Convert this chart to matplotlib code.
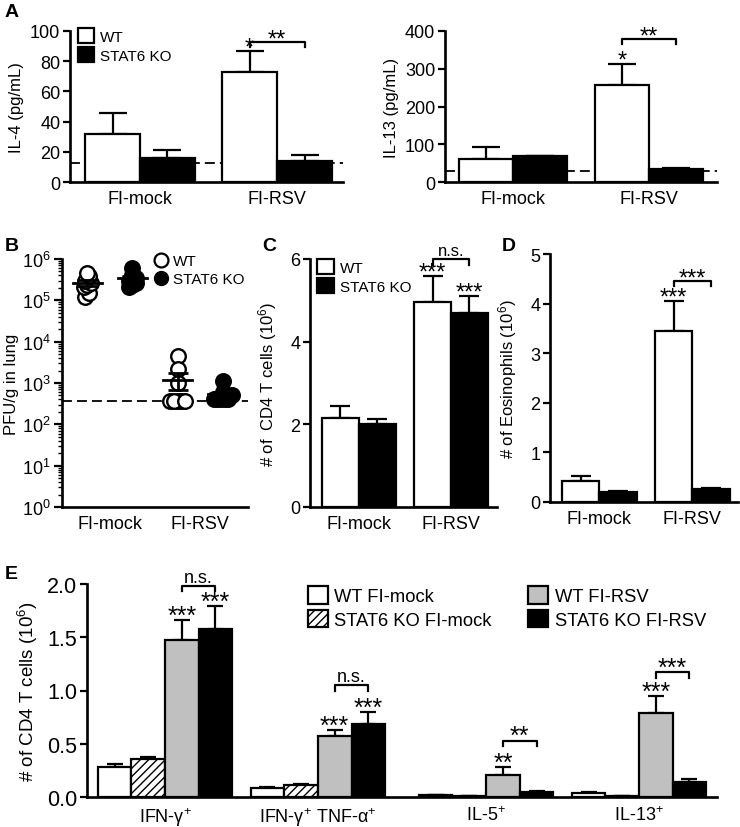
import numpy as np
import matplotlib
matplotlib.use("Agg")
from matplotlib import pyplot as plt
from matplotlib.patches import Patch
from matplotlib.lines import Line2D
from matplotlib.ticker import LogLocator, NullFormatter, FixedLocator

plt.rcParams["font.family"] = ["Liberation Sans", "DejaVu Sans"]
plt.rcParams["mathtext.fontset"] = "custom"
plt.rcParams["mathtext.rm"] = "Liberation Sans"
plt.rcParams["mathtext.it"] = "Liberation Sans:italic"
plt.rcParams["hatch.linewidth"] = 1.0

groups = ["FI-mock", "FI-RSV"]

# A: cytokines (pg/mL), mean and SEM
il4_wt = [32, 73]
il4_wt_sem = [14, 14]
il4_ko = [16, 14]
il4_ko_sem = [5, 4]
il4_lod = 12.5

il13_wt = [62, 258]
il13_wt_sem = [30, 55]
il13_ko = [68, 35]
il13_ko_sem = [2, 3]
il13_lod = 30

# B: lung titres (PFU/g)
pfu_wt_mock = [1.2e5, 1.5e5, 2.1e5, 2.4e5, 2.6e5, 3.0e5, 3.8e5, 4.6e5]
pfu_ko_mock = [2.1e5, 2.4e5, 2.7e5, 3.0e5, 3.2e5, 3.5e5, 4.2e5, 6.0e5]
pfu_wt_rsv = [4.5e3, 2.2e3, 1.0e3, 370, 370, 370, 370, 370]
pfu_ko_rsv = [1.1e3, 600, 520, 400, 400, 400, 400, 400]
pfu_lod = 370

# C: CD4 T cells (10^6)
cd4_wt = [2.15, 4.95]
cd4_wt_sem = [0.3, 0.65]
cd4_ko = [2.0, 4.7]
cd4_ko_sem = [0.13, 0.4]

# D: eosinophils (10^6)
eos_wt = [0.42, 3.45]
eos_wt_sem = [0.1, 0.6]
eos_ko = [0.21, 0.27]
eos_ko_sem = [0.02, 0.02]

# E: cytokine+ CD4 T cells (10^6)
e_cats = ["IFN-γ$^{+}$", "IFN-γ$^{+}$ TNF-α$^{+}$", "IL-5$^{+}$", "IL-13$^{+}$"]
e_wt_mock = [0.28, 0.085, 0.02, 0.035]
e_wt_mock_sem = [0.03, 0.005, 0.003, 0.008]
e_ko_mock = [0.36, 0.11, 0.008, 0.01]
e_ko_mock_sem = [0.02, 0.01, 0.002, 0.003]
e_wt_rsv = [1.47, 0.57, 0.21, 0.79]
e_wt_rsv_sem = [0.19, 0.06, 0.07, 0.16]
e_ko_rsv = [1.58, 0.69, 0.045, 0.14]
e_ko_rsv_sem = [0.21, 0.11, 0.008, 0.03]

LW = 1.6
TICK_FS = 13
LAB_FS = 12
STAR_FS = 17
STAR_DY = -2

W, H = 740, 828
fig = plt.figure(figsize=(W / 100, H / 100), dpi=100)


def add_ax(x0, y0, x1, y1):
    return fig.add_axes([x0 / W, 1 - y1 / H, (x1 - x0) / W, (y1 - y0) / H])


def style(ax):
    for s in ["top", "right"]:
        ax.spines[s].set_visible(False)
    for s in ["left", "bottom"]:
        ax.spines[s].set_linewidth(LW * 1.2)
    ax.tick_params(axis="y", direction="out", length=5, width=LW, labelsize=TICK_FS, pad=2)
    ax.tick_params(axis="x", length=0, labelsize=TICK_FS, pad=6)


def bars(ax, x, vals, sems, color, width, capsize, hatch=None):
    ax.bar(x, vals, width, color=color, edgecolor="black", linewidth=LW,
           hatch=hatch, zorder=2)
    ax.errorbar(x, vals, yerr=[np.zeros(len(vals)), sems], fmt="none",
                ecolor="black", elinewidth=LW, capsize=capsize, capthick=LW, zorder=1)


def label(ax, x, y, text, fs, dy):
    ax.annotate(text, xy=(x, y), xytext=(0, dy), textcoords="offset points",
                ha="center", va="baseline", fontsize=fs, annotation_clip=False)


def bracket(ax, x1, x2, y, drop, text, fs=STAR_FS):
    ax.plot([x1, x1, x2, x2], [y - drop, y, y, y - drop], color="black",
            lw=LW, clip_on=False)
    label(ax, (x1 + x2) / 2, y, text, fs, STAR_DY if "*" in text else 3)


def star(ax, x, y, text, fs=STAR_FS):
    label(ax, x, y, text, fs, STAR_DY)


def bar_legend(ax, items, anchor, ncol=1, fs=11, colsp=1.0):
    handles = [Patch(facecolor=c, edgecolor="black", linewidth=LW, hatch=h)
               for c, h, _ in items]
    ax.legend(handles, [l for _, _, l in items], loc="upper left",
              bbox_to_anchor=anchor, frameon=False, fontsize=fs, ncol=ncol,
              handlelength=1.1, handleheight=1.1, handletextpad=0.35,
              labelspacing=0.25, borderaxespad=0, borderpad=0,
              columnspacing=colsp)


DASH = (0, (5.5, 2.8))
xg = np.arange(len(groups))
bw = 0.4

# ---- Panel A left: IL-4
ax = add_ax(70, 32, 343, 183)
style(ax)
bars(ax, xg - bw / 2, il4_wt, il4_wt_sem, "white", bw, 10)
bars(ax, xg + bw / 2, il4_ko, il4_ko_sem, "black", bw, 10)
ax.axhline(il4_lod, color="black", lw=1.3, ls=DASH, zorder=0.5)
ax.set_xlim(-0.51, 1.48)
ax.set_ylim(0, 100)
ax.set_yticks([0, 20, 40, 60, 80, 100])
ax.set_xticks(xg, groups)
ax.set_ylabel("IL-4 (pg/mL)", fontsize=LAB_FS, labelpad=4)
star(ax, 1 - bw / 2, il4_wt[1] + il4_wt_sem[1], "*")
bracket(ax, 1 - bw / 2, 1 + bw / 2, 92.5, 3, "**")
bar_legend(ax, [("white", None, "WT"), ("black", None, "STAT6 KO")], (0.028, 1.02))

# ---- Panel A right: IL-13
ax = add_ax(445, 32, 717, 183)
style(ax)
bars(ax, xg - bw / 2, il13_wt, il13_wt_sem, "white", bw, 10)
bars(ax, xg + bw / 2, il13_ko, il13_ko_sem, "black", bw, 10)
ax.axhline(il13_lod, color="black", lw=1.3, ls=DASH, zorder=0.5)
ax.set_xlim(-0.5, 1.5)
ax.set_ylim(0, 400)
ax.set_yticks([0, 100, 200, 300, 400])
ax.set_xticks(xg, groups)
ax.set_ylabel("IL-13 (pg/mL)", fontsize=LAB_FS, labelpad=4)
star(ax, 1 - bw / 2, il13_wt[1] + il13_wt_sem[1], "*")
bracket(ax, 1 - bw / 2, 1 + bw / 2, 378, 12, "**")

# ---- Panel B: lung titres
ax = add_ax(62, 260, 248, 508)
style(ax)
ax.set_yscale("log")
ax.set_ylim(1, 1e6)
ax.set_xlim(-0.53, 1.53)
ax.yaxis.set_major_locator(FixedLocator([10.0 ** k for k in range(7)]))
ax.set_yticklabels(["10$^{%d}$" % k for k in range(7)])
ax.yaxis.set_minor_locator(LogLocator(base=10, subs=np.arange(2, 10), numticks=20))
ax.yaxis.set_minor_formatter(NullFormatter())
ax.tick_params(axis="y", which="minor", length=3, width=1.0)
ax.tick_params(axis="y", which="major", length=6, width=LW)


def swarm(vals, step=0.04):
    vals = np.asarray(vals, dtype=float)
    order = np.argsort(vals)
    off = np.zeros(len(vals))
    i = 0
    while i < len(order):
        j = i
        while j + 1 < len(order) and np.log10(vals[order[j + 1]]) - np.log10(vals[order[i]]) < 0.12:
            j += 1
        k = j - i + 1
        for m in range(k):
            off[order[i + m]] = (m - (k - 1) / 2) * step
        i = j + 1
    return off


pfu_sets = [(pfu_wt_mock, 0 - 0.25, False), (pfu_ko_mock, 0 + 0.25, True),
            (pfu_wt_rsv, 1 - 0.25, False), (pfu_ko_rsv, 1 + 0.25, True)]
for vals, xc, filled in pfu_sets:
    v = np.asarray(vals, dtype=float)
    ax.plot(xc + swarm(v), v, "o", ms=10.5, mfc="black" if filled else "white",
            mec="black", mew=1.7, zorder=3, clip_on=False)
    m = v.mean()
    sem = v.std(ddof=1) / np.sqrt(len(v))
    ax.plot([xc - 0.16, xc + 0.16], [m, m], color="black", lw=2, zorder=4)
    ax.errorbar([xc], [m], yerr=[[sem], [sem]], fmt="none", ecolor="black",
                elinewidth=2, capsize=7, capthick=2, zorder=4)
ax.axhline(pfu_lod, color="black", lw=1.3, ls=DASH, zorder=0.5, clip_on=False)
ax.set_xticks(xg, groups)
ax.set_ylabel("PFU/g in lung", fontsize=LAB_FS, labelpad=2)
ax.legend([Line2D([], [], ls="none", marker="o", ms=10, mfc="none", mec="black", mew=1.6),
           Line2D([], [], ls="none", marker="o", ms=10, mfc="black", mec="black")],
          ["WT", "STAT6 KO"], loc="upper left", bbox_to_anchor=(0.5, 1.02),
          frameon=False, fontsize=11, handlelength=0.8, handletextpad=0.4,
          labelspacing=0.25, borderaxespad=0, borderpad=0)

# ---- Panel C: CD4 T cells
ax = add_ax(310, 260, 497, 508)
style(ax)
bars(ax, xg - bw / 2, cd4_wt, cd4_wt_sem, "white", bw, 7)
bars(ax, xg + bw / 2, cd4_ko, cd4_ko_sem, "black", bw, 7)
ax.set_xlim(-0.53, 1.5)
ax.set_ylim(0, 6)
ax.set_yticks([0, 2, 4, 6])
ax.set_xticks(xg, groups)
ax.set_ylabel("# of  CD4 T cells (10$^{6}$)", fontsize=LAB_FS, labelpad=8)
star(ax, 1 - bw / 2, cd4_wt[1] + cd4_wt_sem[1], "***")
star(ax, 1 + bw / 2, cd4_ko[1] + cd4_ko_sem[1], "***")
bracket(ax, 1 - bw / 2, 1 + bw / 2, 6.0, 0.15, "n.s.", fs=12)
bar_legend(ax, [("white", None, "WT"), ("black", None, "STAT6 KO")], (0.04, 1.0))

# ---- Panel D: eosinophils
ax = add_ax(550, 255, 738, 503)
style(ax)
bars(ax, xg - bw / 2, eos_wt, eos_wt_sem, "white", bw, 7)
bars(ax, xg + bw / 2, eos_ko, eos_ko_sem, "black", bw, 7)
ax.set_xlim(-0.53, 1.49)
ax.set_ylim(0, 5)
ax.set_yticks([0, 1, 2, 3, 4, 5])
ax.set_xticks(xg, groups)
ax.set_ylabel("# of Eosinophils (10$^{6}$)", fontsize=LAB_FS, labelpad=8)
star(ax, 1 - bw / 2, eos_wt[1] + eos_wt_sem[1], "***")
bracket(ax, 1 - bw / 2, 1 + bw / 2, 4.45, 0.1, "***")

# ---- Panel E: cytokine+ CD4 T cells
ax = add_ax(87, 585, 717, 798)
style(ax)
xe = np.array([0, 1, 2.1, 3.1])
we = 0.22
series = [(e_wt_mock, e_wt_mock_sem, "white", None, "WT FI-mock"),
          (e_ko_mock, e_ko_mock_sem, "white", "////", "STAT6 KO FI-mock"),
          (e_wt_rsv, e_wt_rsv_sem, "#c0c0c0", None, "WT FI-RSV"),
          (e_ko_rsv, e_ko_rsv_sem, "black", None, "STAT6 KO FI-RSV")]
for i, (vals, sems, col, hatch, _) in enumerate(series):
    bars(ax, xe + (i - 1.5) * we, vals, sems, col, we, 6, hatch)
ax.set_xlim(-0.51, 3.61)
ax.set_ylim(0, 2.0)
ax.set_yticks([0, 0.5, 1.0, 1.5, 2.0])
ax.set_yticklabels(["0.0", "0.5", "1.0", "1.5", "2.0"])
ax.tick_params(axis="y", labelsize=15.5)
ax.set_xticks(xe, e_cats)
ax.set_ylabel("# of CD4 T cells (10$^{6}$)", fontsize=13.5, labelpad=5)
gx = xe + 0.5 * we
kx = xe + 1.5 * we
E_STAR = 18
for j, lab in [(0, "***"), (1, "***"), (2, "**"), (3, "***")]:
    star(ax, gx[j], e_wt_rsv[j] + e_wt_rsv_sem[j], lab, fs=E_STAR)
for j in [0, 1]:
    star(ax, kx[j], e_ko_rsv[j] + e_ko_rsv_sem[j], "***", fs=E_STAR)
bracket(ax, gx[0], kx[0], 1.98, 0.05, "n.s.", fs=13)
bracket(ax, gx[1], kx[1], 1.05, 0.05, "n.s.", fs=13)
bracket(ax, gx[2], kx[2], 0.53, 0.05, "**", fs=E_STAR)
bracket(ax, gx[3], kx[3], 1.17, 0.05, "***", fs=E_STAR)
bar_legend(ax, [(c, h, l) for _, _, c, h, l in series], (0.35, 0.99),
           ncol=2, fs=13.2, colsp=2.0)

# panel letters
for lab, (px, py) in {"A": (5, 4), "B": (5, 238), "C": (262, 238),
                      "D": (502, 238), "E": (5, 566)}.items():
    fig.text(px / W, 1 - py / H, lab, fontsize=14, fontweight="bold",
             ha="left", va="top")

fig.savefig("out.png", dpi=100, facecolor="white")
